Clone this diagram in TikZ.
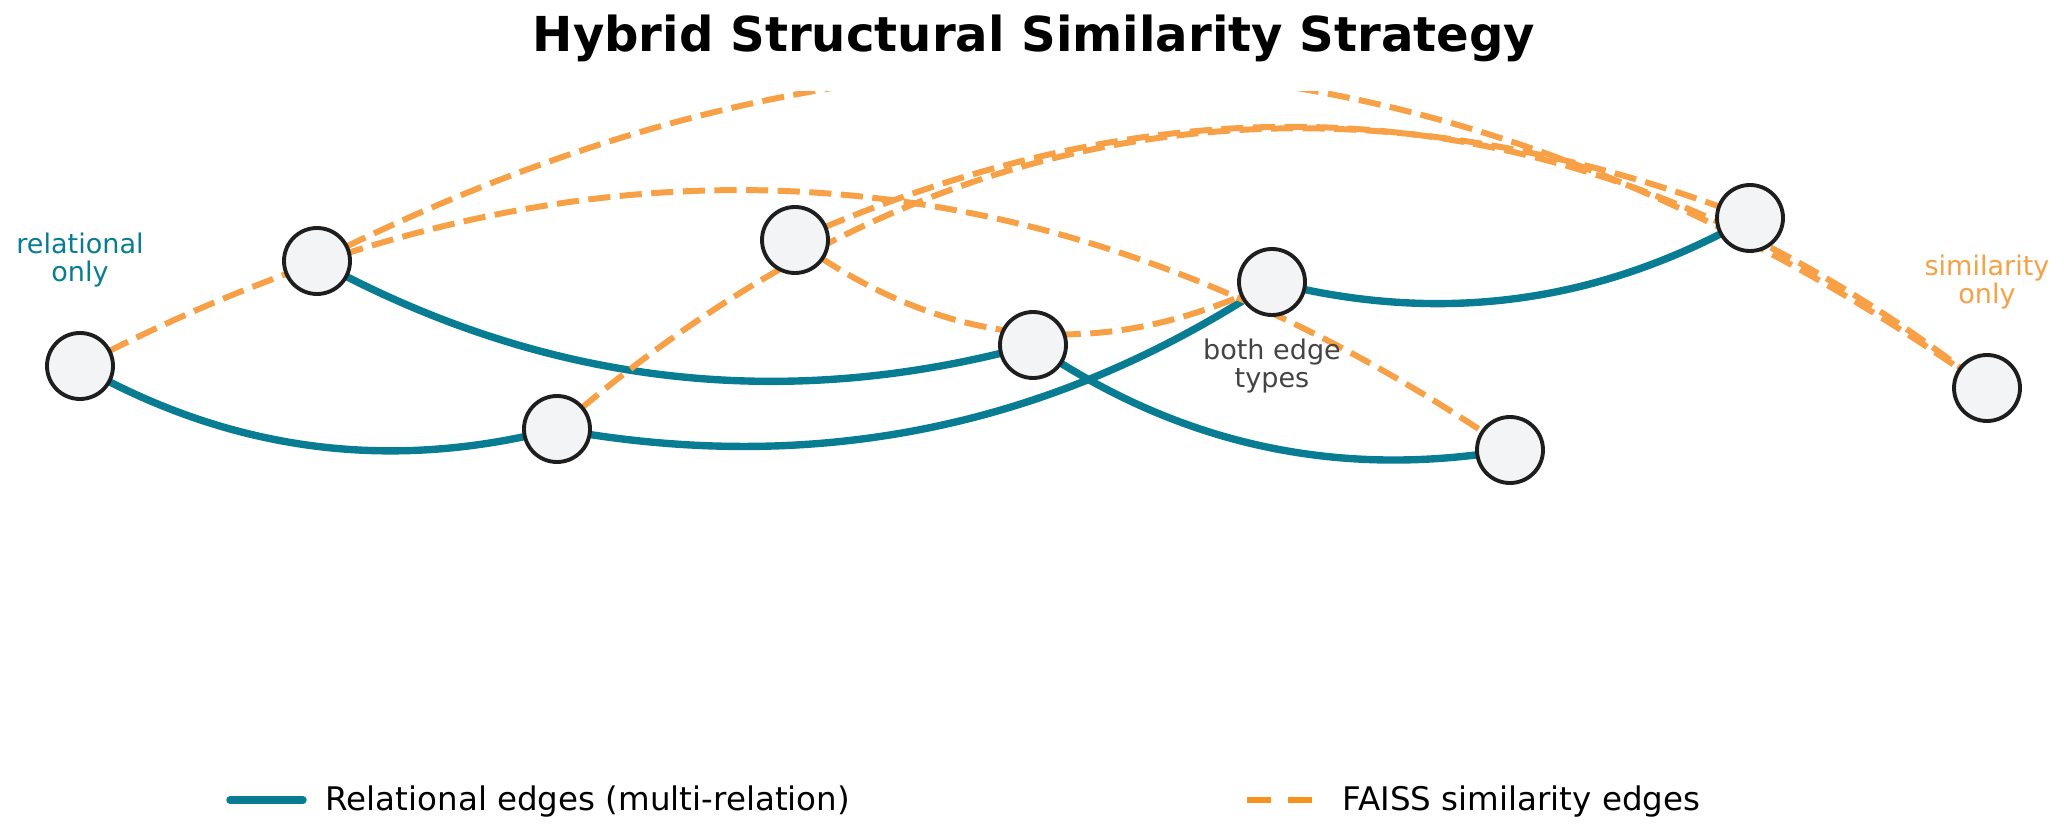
\documentclass[tikz,border=0pt]{standalone}
\usepackage{fontspec}
\setmainfont{DejaVu Sans}
\usetikzlibrary{calc,backgrounds}

\definecolor{reledge}{RGB}{8,124,146}
\definecolor{simedge}{RGB}{247,160,70}
\definecolor{simkey}{RGB}{246,146,30}
\definecolor{nodefill}{RGB}{243,244,246}
\definecolor{nodeline}{RGB}{30,30,30}
\definecolor{notegray}{RGB}{68,68,68}

\begin{document}
\begin{tikzpicture}[
		dot/.style={circle, draw=nodeline, line width=1.1pt, fill=nodefill, minimum size=0.66cm, inner sep=0pt},
		rel/.style={draw=reledge, line width=2.1pt},
		sim/.style={draw=simedge, line width=1.7pt, dash pattern=on 6.3pt off 2.7pt},
		note/.style={font=\fontsize{7.7}{8}\selectfont, align=center},
		keytext/.style={anchor=base west, inner sep=0pt, font=\fontsize{9.25}{11}\selectfont}
	]
		\useasboundingbox (0,0) rectangle (20.64,8.31);

		\node[anchor=base, font=\bfseries\fontsize{13.7}{16}\selectfont] (title) at (10.34, 7.79) {Hybrid Structural Similarity Strategy};

		\node[dot] (A) at ( 0.80, 4.65) {};
		\node[dot] (B) at ( 3.17, 5.70) {};
		\node[dot] (C) at ( 5.57, 4.02) {};
		\node[dot] (D) at ( 7.95, 5.91) {};
		\node[dot] (E) at (10.33, 4.86) {};
		\node[dot] (F) at (12.72, 5.49) {};
		\node[dot] (G) at (15.10, 3.81) {};
		\node[dot] (H) at (17.50, 6.13) {};
		\node[dot] (I) at (19.87, 4.43) {};

		\begin{scope}[on background layer]
			\clip (0,0) rectangle (20.64,7.39);
			\draw[rel] (A.center) to[bend right=22, looseness=0.92] (C.center);
			\draw[rel] (B.center) to[bend right=22, looseness=0.92] (E.center);
			\draw[rel] (C.center) to[bend right=22, looseness=0.92] (F.center);
			\draw[rel] (E.center) to[bend right=22, looseness=0.92] (G.center);
			\draw[rel] (F.center) to[bend right=22, looseness=0.92] (H.center);

			\draw[sim] (A.center) to[bend left=31] (G.center);
			\draw[sim] (B.center) to[bend left=31] (I.center);
			\draw[sim] (C.center) to[bend left=31] (H.center);
			\draw[sim] (D.center) to[bend left=31] (I.center);
			\draw[sim] (D.center) to[bend right=31] (F.center);
		\end{scope}

		\node[note, text=reledge] (relonly) at ($(A)+(0,1.06)$) {relational\\only};
		\node[note, text=simedge] (simonly) at ($(I)+(0,1.06)$) {similarity\\only};
		\node[note, text=notegray] (both) at ($(F)+(0,-0.84)$) {both edge\\types};

		\coordinate (K1) at ( 2.30, 0.31);
		\coordinate (K2) at ( 3.03, 0.31);
		\draw[rel, line cap=round] (K1) -- (K2);
		\node[keytext] (keyrel) at ( 3.25, 0.21) {Relational edges (multi-relation)};

		\coordinate (K3) at (12.47, 0.31);
		\coordinate (K4) at (13.13, 0.31);
		\draw[sim, draw=simkey, dash pattern=on 6.8pt off 4.8pt] (K3) -- (K4);
		\node[keytext] (keysim) at (13.42, 0.21) {FAISS similarity edges};

	\end{tikzpicture}
\end{document}
